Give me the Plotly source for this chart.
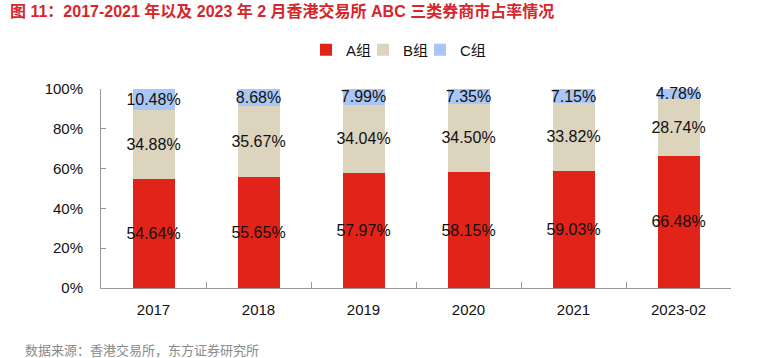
import plotly.graph_objects as go

categories = ["2017", "2018", "2019", "2020", "2021", "2023-02"]
group_a = [54.64, 55.65, 57.97, 58.15, 59.03, 66.48]
group_b = [34.88, 35.67, 34.04, 34.50, 33.82, 28.74]
group_c = [10.48, 8.68, 7.99, 7.35, 7.15, 4.78]
series_names = ["A组", "B组", "C组"]
colors = ["#E2231A", "#DDD4BE", "#A9C7F4"]

FONT = "Liberation Sans, Arial, Noto Sans CJK SC, sans-serif"
W, H = 780, 358
legend_ids = ["legend", "legend2", "legend3"]
legend_x = [306, 363, 420]

fig = go.Figure()
for name, vals, col, lid in zip(series_names, [group_a, group_b, group_c], colors, legend_ids):
    fig.add_trace(go.Bar(
        x=categories, y=[v / 100 for v in vals], name=name, legend=lid,
        marker=dict(color=col, line=dict(width=0)),
        text=[f"{v:.2f}%" for v in vals],
        textposition="inside", insidetextanchor="middle", textangle=0,
        constraintext="none", cliponaxis=False,
        textfont=dict(family=FONT, size=16, color="#111111"),
        width=0.4,
    ))

legend_common = dict(orientation="h", xanchor="left", xref="container",
                     y=1 - 50 / H, yanchor="middle", yref="container",
                     font=dict(size=15), itemwidth=30,
                     bgcolor="rgba(0,0,0,0)", borderwidth=0)

fig.update_layout(
    barmode="stack",
    width=W, height=H,
    margin=dict(l=101, r=49, t=89, b=70, autoexpand=False),
    paper_bgcolor="white", plot_bgcolor="white",
    font=dict(family=FONT, size=15, color="#111111"),
    showlegend=True,
    legend=dict(x=legend_x[0] / W, **legend_common),
    legend2=dict(x=legend_x[1] / W, **legend_common),
    legend3=dict(x=legend_x[2] / W, **legend_common),
    uniformtext=dict(mode=False),
    xaxis=dict(type="category", showline=True, linecolor="#999999", linewidth=1,
               ticks="inside", ticklen=6, tickcolor="#999999", tickson="boundaries",
               ticklabelstandoff=8,
               showgrid=False, tickfont=dict(size=15)),
    yaxis=dict(range=[0, 1], tickformat=".0%", dtick=0.2, showline=True,
               linecolor="#999999", linewidth=1, ticks="inside", ticklen=5,
               tickcolor="#999999", showgrid=False, zeroline=False,
               ticklabelstandoff=14,
               tickfont=dict(size=15)),
)

fig.add_annotation(text="<b>图 11：2017-2021 年以及 2023 年 2 月香港交易所 ABC 三类券商市占率情况</b>",
                   xref="paper", yref="paper", x=-93/629, y=1 + 78/199,
                   xanchor="left", yanchor="middle", showarrow=False,
                   font=dict(family="Liberation Sans, Noto Sans CJK SC", size=16, color="#D7262B"))
fig.add_annotation(text="数据来源：香港交易所，东方证券研究所",
                   xref="paper", yref="paper", x=-78/629, y=-61/199,
                   xanchor="left", yanchor="middle", showarrow=False,
                   font=dict(family="Noto Sans CJK SC", size=13, color="#8A8A8A"))

fig.write_html("out.html", config={"displayModeBar": False},
               post_script="document.body.style.margin='0px';")
